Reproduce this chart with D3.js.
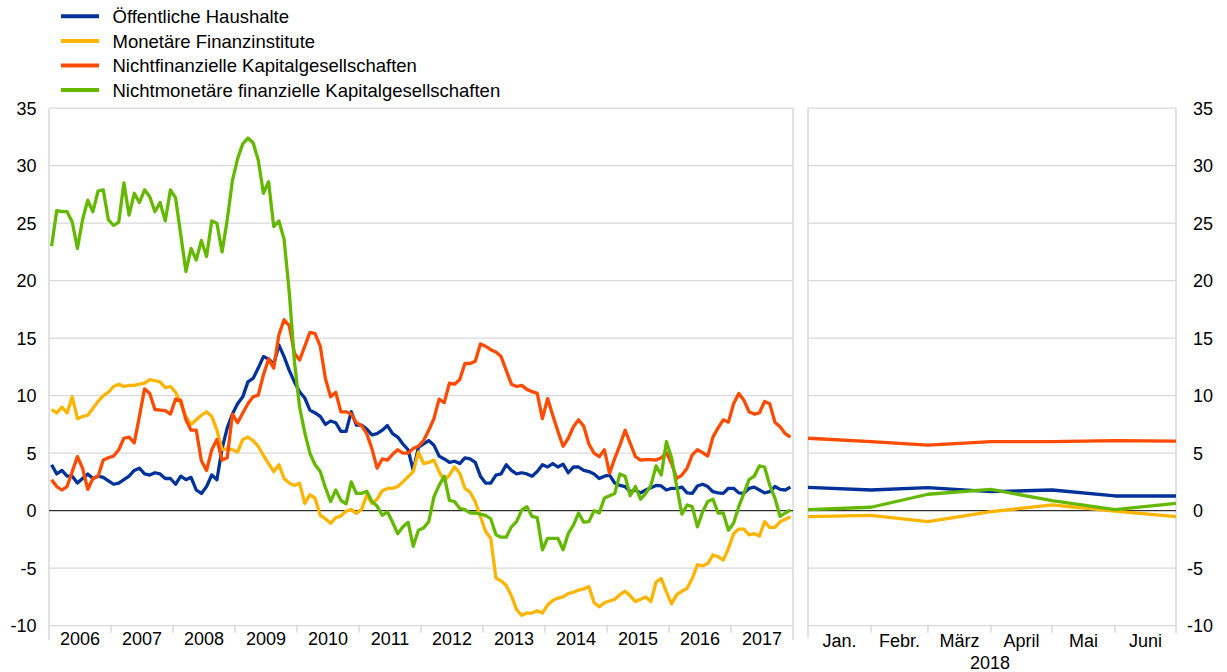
<!DOCTYPE html>
<html>
<head>
<meta charset="utf-8">
<script src="https://cdn.jsdelivr.net/npm/d3@7"></script>
<style>
  html, body { margin: 0; padding: 0; background: #fff; }
  svg { display: block; font-family: "Liberation Sans", Arial, sans-serif; }
</style>
</head>
<body>
<svg id="chart" width="1227" height="672"></svg>
<script>
// ---------- DATA ----------
const years = [2006, 2007, 2008, 2009, 2010, 2011, 2012, 2013, 2014, 2015, 2016, 2017];
const months2018 = ["Jan.", "Febr.", "März", "April", "Mai", "Juni"];
const yTicks = [-10, -5, 0, 5, 10, 15, 20, 25, 30, 35];

const seriesNames = [
  "Öffentliche Haushalte",
  "Monetäre Finanzinstitute",
  "Nichtfinanzielle Kapitalgesellschaften",
  "Nichtmonetäre finanzielle Kapitalgesellschaften"
];

// Monthly values Jan 2006 - Dec 2017 (144 months)
const oeffentlicheHaushalte = [
  4.0, 3.2, 3.5, 3.0, 3.0, 2.4, 2.8, 3.2, 2.8, 3.0, 2.9, 2.6,
  2.3, 2.4, 2.7, 3.0, 3.5, 3.7, 3.2, 3.1, 3.3, 3.2, 2.8, 2.8,
  2.3, 3.0, 2.7, 2.9, 1.8, 1.5, 2.1, 3.1, 2.7, 5.4, 7.2, 8.4,
  9.3, 9.9, 11.2, 11.5, 12.4, 13.4, 13.2, 12.75, 14.4, 13.4, 12.2, 11.2,
  10.35, 9.8, 8.75, 8.5, 8.2, 7.5, 7.8, 7.65, 6.9, 6.9, 8.6, 7.45,
  7.45, 7.1, 6.6, 6.7, 7.0, 7.4, 6.7, 6.4, 5.8, 5.3, 3.5, 5.5,
  5.8, 6.1, 5.7, 4.75, 4.5, 4.2, 4.3, 4.1, 4.6, 4.5, 4.2, 3.0,
  2.4, 2.4, 3.1, 3.2, 4.0, 3.5, 3.2, 3.3, 3.2, 3.0, 3.4, 4.0,
  3.8, 4.1, 3.8, 4.05, 3.3, 3.8, 3.8, 3.5, 3.4, 3.2, 2.8, 3.0,
  3.1, 2.4, 2.2, 2.1, 1.65, 1.8, 1.55, 1.8, 2.0, 2.2, 2.15, 1.8,
  1.95, 1.95, 2.05, 1.55, 1.5, 2.15, 2.3, 2.1, 1.65, 1.55, 1.5, 1.95,
  1.95, 1.55, 1.5, 1.95, 2.05, 1.8, 1.55, 1.65, 2.1, 1.85, 1.8, 2.05
];
const monetaereFinanzinstitute = [
  8.8, 8.5, 9.0, 8.5, 9.9, 8.0, 8.2, 8.3, 8.9, 9.5, 10.0, 10.3,
  10.8, 11.0, 10.8, 10.9, 10.9, 11.0, 11.1, 11.4, 11.3, 11.2, 10.7, 10.8,
  10.3, 9.3, 8.2, 7.5, 7.9, 8.3, 8.6, 8.2, 7.0, 5.3, 5.4, 5.3,
  5.1, 6.2, 6.4, 6.1, 5.6, 4.8, 4.1, 3.4, 4.0, 2.8, 2.4, 2.2,
  2.4, 0.64, 1.4, 1.07, -0.4, -0.7, -1.1, -0.6, -0.46, -0.03, 0.1, -0.23,
  0.12, 1.36, 0.64, 0.99, 1.74, 1.94, 1.94, 2.1, 2.5, 2.95, 3.4, 5.1,
  4.1, 4.2, 4.4, 3.4, 2.6, 3.1, 3.8, 3.25, 1.95, 1.6, 0.8, -0.5,
  -1.8, -2.4, -5.85, -6.1, -6.5, -7.4, -8.6, -9.1, -8.9, -8.9, -8.7, -8.9,
  -8.2, -7.8, -7.6, -7.5, -7.2, -7.1, -6.9, -6.8, -6.6, -8.0, -8.35, -8.0,
  -7.85, -7.7, -7.3, -7.0, -7.4, -7.9, -7.7, -7.5, -7.9, -6.2, -5.9, -7.05,
  -8.1, -7.3, -7.0, -6.75, -5.9, -4.7, -4.8, -4.6, -3.85, -4.0, -4.3, -3.3,
  -2.0, -1.6, -1.6, -2.1, -2.0, -2.2, -0.96, -1.45, -1.45, -0.96, -0.75, -0.52
];
const nichtfinanzielleKG = [
  2.7, 2.1, 1.8, 2.1, 3.4, 4.7, 3.7, 1.85, 2.8, 3.0, 4.4, 4.6,
  4.75, 5.3, 6.3, 6.4, 5.9, 8.2, 10.6, 10.2, 8.8, 8.75, 8.7, 8.4,
  9.7, 9.6, 7.9, 7.0, 7.0, 4.35, 3.5, 5.3, 6.2, 4.4, 4.6, 8.4,
  7.65, 8.5, 9.3, 9.9, 10.05, 11.8, 13.2, 12.4, 15.3, 16.6, 16.1, 13.7,
  13.1, 14.3, 15.5, 15.4, 14.3, 11.5, 9.9, 10.3, 8.6, 8.6, 8.4, 7.65,
  7.4, 6.7, 5.4, 3.7, 4.5, 4.4, 4.9, 5.3, 5.0, 5.0, 5.4, 5.6,
  6.1, 7.0, 8.0, 9.7, 9.4, 11.1, 11.0, 11.4, 12.8, 12.8, 13.0, 14.5,
  14.3, 14.0, 13.8, 13.4, 12.2, 11.0, 10.8, 10.9, 10.55, 10.35, 10.2, 8.0,
  9.75, 8.3, 6.9, 5.6, 6.3, 7.3, 7.9, 7.35, 5.8, 5.0, 4.7, 5.3,
  3.25, 4.55, 5.7, 7.0, 5.85, 4.7, 4.4, 4.45, 4.45, 4.4, 4.6, 5.05,
  4.1, 2.8, 3.1, 3.7, 4.85, 5.3, 5.05, 4.75, 6.4, 7.2, 7.9, 7.7,
  9.3, 10.2, 9.6, 8.6, 8.4, 8.5, 9.5, 9.3, 7.7, 7.3, 6.7, 6.4
];
const nichtmonetaereFKG = [
  23.0, 26.1, 26.0, 26.0, 25.1, 22.8, 25.3, 27.0, 26.0, 27.8, 27.9, 25.3,
  24.8, 25.1, 28.5, 25.7, 27.6, 26.8, 27.9, 27.3, 26.0, 26.8, 25.2, 27.9,
  27.2, 24.0, 20.8, 22.8, 21.8, 23.5, 22.1, 25.2, 25.0, 22.5, 25.3, 28.7,
  30.6, 31.9, 32.4, 32.0, 30.5, 27.6, 28.6, 24.7, 25.2, 23.6, 19.0, 13.0,
  9.0, 6.8, 5.0, 4.0, 3.4, 2.0, 0.8, 1.8, 0.9, 0.6, 2.5, 1.5,
  1.5, 1.7, 0.8, 0.4, -0.4, -0.1, -1.0, -2.0, -1.4, -1.0, -3.1, -1.7,
  -1.5, -0.95, 1.2, 2.2, 3.0, 0.9, 0.8, 0.2, 0.1, -0.2, -0.2, -0.3,
  -0.4, -0.7, -2.1, -2.3, -2.3, -1.4, -0.95, 0.06, 0.35, -0.5, -0.6, -3.4,
  -2.4, -2.4, -2.4, -3.4, -2.0, -1.25, -0.2, -1.0, -0.95, 0.0, -0.2, 1.1,
  1.3, 1.5, 3.2, 3.0, 1.3, 2.1, 1.0, 1.5, 2.2, 3.9, 3.1, 6.0,
  4.6, 2.1, -0.3, 0.5, 0.35, -1.4, -0.1, 0.8, 1.0, -0.2, -0.2, -1.7,
  -1.1, 0.35, 1.5, 2.7, 3.0, 3.9, 3.8, 2.2, 1.1, -0.5, -0.2, 0.06
];

// 2018 panel: values at the start of Jan ... Jul 2018
const oeffentlicheHaushalte2018 = [2.03, 1.8, 2.0, 1.65, 1.8, 1.28, 1.28];
const monetaereFinanzinstitute2018 = [-0.52, -0.4, -0.95, -0.09, 0.5, -0.03, -0.52];
const nichtfinanzielleKG2018 = [6.3, 6.0, 5.7, 6.0, 6.0, 6.1, 6.05];
const nichtmonetaereFKG2018 = [0.1, 0.3, 1.43, 1.86, 0.87, 0.1, 0.64];

const colors = ["#003299", "#ffb400", "#ff4b00", "#65b800"];

// ---------- CHART ----------
const svg = d3.select("#chart");
const fontSize = 18;
const legendFontSize = 18.5;
const gridColor = "#d9d9d9";

const yTop = 108.2, yBottom = 625.7;
const leftX0 = 49, leftX1 = 793;
const rightX0 = 808, rightX1 = 1176;

const y = d3.scaleLinear().domain([-10, 35]).range([yBottom, yTop]);

// month categories for left panel
const monthKeys = [];
years.forEach(yr => { for (let m = 0; m < 12; m++) monthKeys.push(yr + "-" + m); });
const xBand = d3.scaleBand().domain(monthKeys).range([leftX0, leftX1]).padding(0);
const xl = k => xBand(k) + xBand.bandwidth() / 2;

// time scale for right panel
const xr = d3.scaleTime()
  .domain([new Date(2018, 0, 1), new Date(2018, 6, 1)])
  .range([rightX0, rightX1]);
const rightDates = d3.range(7).map(m => new Date(2018, m, 1));

// gridlines
function grid(x0, x1) {
  svg.append("g").selectAll("line")
    .data(yTicks.filter(t => t !== 0))
    .join("line")
    .attr("x1", x0).attr("x2", x1)
    .attr("y1", d => y(d)).attr("y2", d => y(d))
    .attr("stroke", gridColor).attr("stroke-width", 1.2);
}
grid(leftX0, leftX1);
grid(rightX0, rightX1);

// panel borders
[[leftX0, 640], [leftX1, 640], [rightX0, 638], [rightX1, 633]].forEach(([x, yb]) => {
  svg.append("line").attr("x1", x).attr("x2", x).attr("y1", yTop).attr("y2", yb)
    .attr("stroke", gridColor).attr("stroke-width", 1.5);
});

// x ticks left (year boundaries)
const yearStarts = years.map(yr => xBand(yr + "-0"));
svg.append("g").selectAll("line").data(yearStarts.slice(1)).join("line")
  .attr("x1", d => d).attr("x2", d => d).attr("y1", yBottom).attr("y2", yBottom + 7)
  .attr("stroke", gridColor).attr("stroke-width", 1.5);

// x ticks right (month boundaries)
svg.append("g").selectAll("line").data(rightDates.slice(1, 6)).join("line")
  .attr("x1", d => xr(d)).attr("x2", d => xr(d)).attr("y1", yBottom).attr("y2", yBottom + 7)
  .attr("stroke", gridColor).attr("stroke-width", 1.5);

// zero lines
[[leftX0, leftX1], [rightX0, rightX1]].forEach(([a, b]) => {
  svg.append("line").attr("x1", a).attr("x2", b).attr("y1", y(0)).attr("y2", y(0))
    .attr("stroke", "#000").attr("stroke-width", 1);
});

// y axis labels
svg.append("g").selectAll("text").data(yTicks).join("text")
  .attr("x", 36.5).attr("y", d => y(d)).attr("dy", "0.36em")
  .attr("text-anchor", "end").attr("font-size", fontSize).attr("fill", "#000")
  .text(d => d);
svg.append("g").selectAll("text").data(yTicks).join("text")
  .attr("x", d => d < 0 ? 1187 : 1193).attr("y", d => y(d)).attr("dy", "0.36em")
  .attr("text-anchor", "start").attr("font-size", fontSize).attr("fill", "#000")
  .text(d => d);

// year labels
svg.append("g").selectAll("text").data(years).join("text")
  .attr("x", yr => xBand(yr + "-0") + xBand.bandwidth() * 6)
  .attr("y", 645)
  .attr("text-anchor", "middle").attr("font-size", fontSize).attr("fill", "#000")
  .text(d => d);

// month labels
svg.append("g").selectAll("text").data(months2018).join("text")
  .attr("x", (d, i) => (xr(rightDates[i]) + xr(rightDates[i + 1])) / 2)
  .attr("y", 647)
  .attr("text-anchor", "middle").attr("font-size", fontSize).attr("fill", "#000")
  .text(d => d);
svg.append("text")
  .attr("x", (xr(rightDates[0]) + xr(rightDates[6])) / 2 - 2).attr("y", 668.5)
  .attr("text-anchor", "middle").attr("font-size", fontSize).attr("fill", "#000")
  .text("2018");

// lines
const leftSeries = [oeffentlicheHaushalte, monetaereFinanzinstitute, nichtfinanzielleKG, nichtmonetaereFKG];
const rightSeries = [oeffentlicheHaushalte2018, monetaereFinanzinstitute2018, nichtfinanzielleKG2018, nichtmonetaereFKG2018];

const lineL = d3.line().x((d, i) => xl(monthKeys[i])).y(d => y(d));
const lineR = d3.line().x((d, i) => xr(rightDates[i])).y(d => y(d));

leftSeries.forEach((s, k) => {
  svg.append("path").datum(s).attr("d", lineL)
    .attr("fill", "none").attr("stroke", colors[k]).attr("stroke-width", 3.3)
    .attr("stroke-linejoin", "round");
});
rightSeries.forEach((s, k) => {
  svg.append("path").datum(s).attr("d", lineR)
    .attr("fill", "none").attr("stroke", colors[k]).attr("stroke-width", 3.3)
    .attr("stroke-linejoin", "round");
});

// legend
const legend = svg.append("g").selectAll("g").data(seriesNames).join("g")
  .attr("transform", (d, i) => `translate(0, ${16.3 + i * 24.6})`);
legend.append("line").attr("x1", 61).attr("x2", 99).attr("y1", 0).attr("y2", 0)
  .attr("stroke", (d, i) => colors[i]).attr("stroke-width", 4);
legend.append("text").attr("x", 112.5).attr("y", 0).attr("dy", "0.36em")
  .attr("font-size", legendFontSize).attr("fill", "#000").text(d => d);
</script>
</body>
</html>
